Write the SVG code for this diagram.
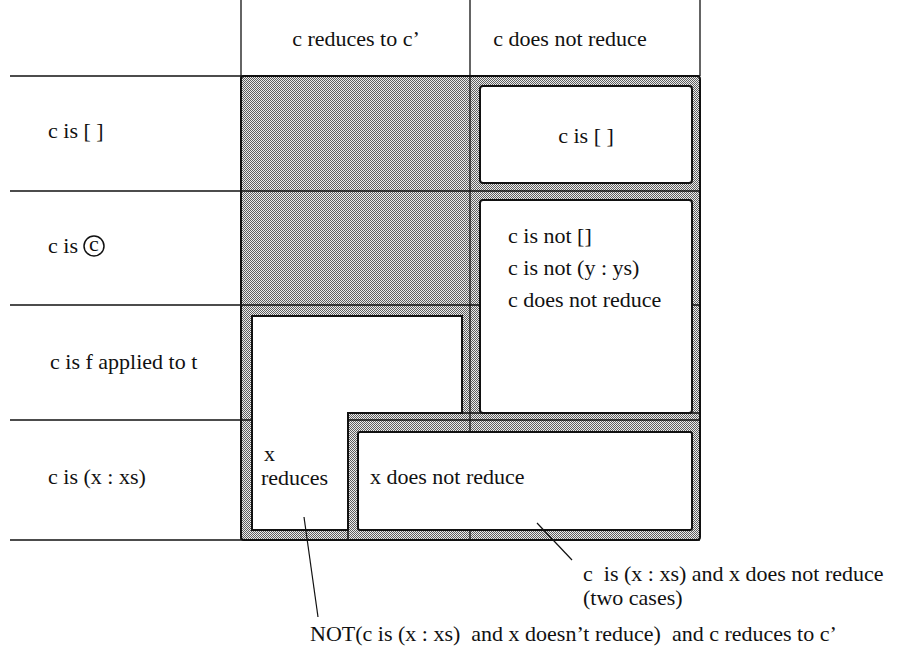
<svg xmlns="http://www.w3.org/2000/svg" width="902" height="657" viewBox="0 0 902 657" xml:space="preserve">
<defs>
<pattern id="dots" width="2" height="2" patternUnits="userSpaceOnUse">
<rect width="2" height="2" fill="#ececec"/>
<rect x="0" y="0" width="1" height="1" fill="#5e5e5e"/>
<rect x="1" y="1" width="1" height="1" fill="#5e5e5e"/>
</pattern>
</defs>
<style>
text{font-family:"Liberation Serif","Times New Roman",serif;font-size:22px;fill:#111;white-space:pre}
.grid{stroke:#111;stroke-width:1.3;fill:none}
.box{fill:#fff;stroke:#111;stroke-width:2}
.ptr{stroke:#111;stroke-width:1.2;fill:none}
</style>
<rect width="902" height="657" fill="#fff"/>
<g id="shade">
<rect x="241" y="76" width="459" height="464" rx="3" fill="url(#dots)" stroke="#111" stroke-width="2"/>
</g>
<g id="grid">
<line class="grid" x1="241" y1="0" x2="241" y2="540"/>
<line class="grid" x1="470" y1="0" x2="470" y2="540"/>
<line class="grid" x1="700" y1="0" x2="700" y2="76"/>
<line class="grid" x1="10" y1="76" x2="700" y2="76"/>
<line class="grid" x1="10" y1="191" x2="700" y2="191"/>
<line class="grid" x1="10" y1="305" x2="700" y2="305"/>
<line class="grid" x1="10" y1="420" x2="700" y2="420"/>
<line class="grid" x1="10" y1="540" x2="700" y2="540"/>
</g>
<g id="step">
<path d="M348,540 V413 H700" stroke="#111" stroke-width="1.5" fill="none"/>
</g>
<g id="header">
<text x="356" y="46" text-anchor="middle">c reduces to c’</text>
<text x="570" y="46" text-anchor="middle">c does not reduce</text>
</g>
<g id="rows">
<text x="48" y="138">c is [ ]</text>
<g id="row-circ">
<text x="48" y="253">c is</text>
<circle cx="94" cy="246" r="10" fill="none" stroke="#111" stroke-width="1.5"/>
<text x="94" y="251" text-anchor="middle" font-size="15">c</text>
</g>
<text x="50" y="369">c is f applied to t</text>
<text x="48" y="484">c is (x : xs)</text>
</g>
<g id="box-empty">
<rect class="box" x="480" y="86" width="212" height="97" rx="3"/>
<text x="586" y="143" text-anchor="middle">c is [ ]</text>
</g>
<g id="box-other">
<rect class="box" x="480" y="200" width="212" height="213" rx="3"/>
<text x="508" y="243">c is not []</text>
<text x="508" y="275">c is not (y : ys)</text>
<text x="508" y="307">c does not reduce</text>
</g>
<g id="box-reduces">
<path class="box" d="M252,316 H462 V413 H348 V530 H252 Z"/>
<text x="264" y="461">x</text>
<text x="261" y="485">reduces</text>
</g>
<g id="box-xnot">
<rect class="box" x="358" y="432" width="334" height="98" rx="2"/>
<text x="370" y="484">x does not reduce</text>
</g>
<g id="connectors">
<line class="ptr" x1="304" y1="517" x2="318" y2="617"/>
<line class="ptr" x1="537" y1="523" x2="572" y2="560"/>
</g>
<g id="notes">
<text x="583" y="581">c  is (x : xs) and x does not reduce</text>
<text x="583" y="605">(two cases)</text>
<text x="310" y="641">NOT(c is (x : xs)  and x doesn’t reduce)  and c reduces to c’</text>
</g>
</svg>
